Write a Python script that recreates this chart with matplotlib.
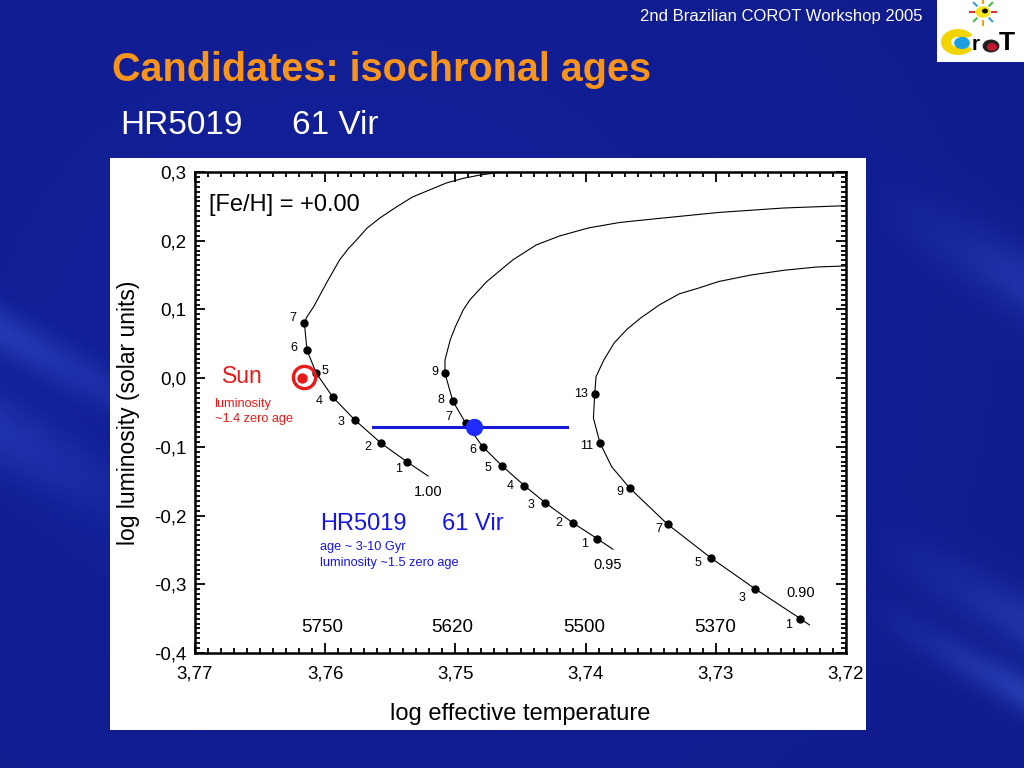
import numpy as np
import matplotlib
matplotlib.use('Agg')
import matplotlib.pyplot as plt
from matplotlib.patches import Rectangle, Circle, Wedge
from matplotlib.ticker import MultipleLocator, AutoMinorLocator, FuncFormatter

plt.rcParams['font.family'] = ['Liberation Sans', 'DejaVu Sans']

# ---------------- data (log Teff, log L/Lsun) ----------------
# isochrone curves, 1.00, 0.95 and 0.90 Msun tracks
track100_x = [3.7521, 3.7537, 3.7557, 3.7577, 3.7594, 3.7607, 3.7614, 3.7616, 3.7614, 3.7609,
              3.7599, 3.7589, 3.7582, 3.7576, 3.7568, 3.7558, 3.7545, 3.7533, 3.7520, 3.7507,
              3.7494, 3.7481, 3.7468, 3.7454, 3.7430]
track100_y = [-0.1424, -0.122, -0.0948, -0.0613, -0.0279, 0.0075, 0.041, 0.0803, 0.0894, 0.1035,
              0.1385, 0.1719, 0.1890, 0.2010, 0.2181, 0.2331, 0.2495, 0.2636, 0.2738, 0.2840,
              0.2908, 0.2956, 0.2990, 0.3010, 0.305]

track095_x = [3.7379, 3.7391, 3.7410, 3.7431, 3.7447, 3.7464, 3.7479, 3.7492, 3.7502, 3.7508,
              3.7508, 3.7504, 3.7500, 3.7494, 3.7489, 3.7484, 3.7476, 3.7468, 3.7456, 3.7438,
              3.7420, 3.7398, 3.7374, 3.7348, 3.7298, 3.7248, 3.7200]
track095_y = [-0.2491, -0.2337, -0.2104, -0.1813, -0.1565, -0.1279, -0.0998, -0.0657, -0.0333, 0.0071,
              0.0264, 0.0555, 0.0749, 0.0992, 0.1137, 0.1239, 0.1404, 0.1530, 0.1719, 0.1938,
              0.2069, 0.2185, 0.2265, 0.2316, 0.2411, 0.2476, 0.2510]

track090_x = [3.7228, 3.7235, 3.7270, 3.7304, 3.7337, 3.7366, 3.7380, 3.7389, 3.7394, 3.7393,
              3.7392, 3.7386, 3.7378, 3.7368, 3.7358, 3.7343, 3.7328, 3.7313, 3.7298, 3.7273,
              3.7248, 3.7223, 3.7200]
track090_y = [-0.3592, -0.3501, -0.3064, -0.2613, -0.2127, -0.1603, -0.1289, -0.0940, -0.058, -0.0235,
              0.0021, 0.0264, 0.0514, 0.0715, 0.0871, 0.1070, 0.1227, 0.1312, 0.1405, 0.1501,
              0.1569, 0.1617, 0.1633]

# age marks (Gyr) on each track
ages100 = [1, 2, 3, 4, 5, 6, 7]
ages100_x = [3.7537, 3.7557, 3.7577, 3.7594, 3.7607, 3.7614, 3.7616]
ages100_y = [-0.122, -0.0948, -0.0613, -0.0279, 0.0075, 0.041, 0.0803]

ages095 = [1, 2, 3, 4, 5, 6, 7, 8, 9]
ages095_x = [3.7391, 3.7410, 3.7431, 3.7447, 3.7464, 3.7479, 3.7492, 3.7502, 3.7508]
ages095_y = [-0.2337, -0.2104, -0.1813, -0.1565, -0.1279, -0.0998, -0.0657, -0.0333, 0.0071]

ages090 = [1, 3, 5, 7, 9, 11, 13]
ages090_x = [3.7235, 3.7270, 3.7304, 3.7337, 3.7366, 3.7389, 3.7393]
ages090_y = [-0.3501, -0.3064, -0.2613, -0.2127, -0.1603, -0.0940, -0.0235]

mass_labels = ['1.00', '0.95', '0.90']
mass_x = [3.7521, 3.7383, 3.7235]
mass_y = [-0.165, -0.272, -0.313]

teff_labels = [5750, 5620, 5500, 5370]
teff_y = -0.3636

sun_x, sun_y = 3.7616, 0.0017
star_x, star_y = 3.7486, -0.071
star_xmin, star_xmax = 3.7414, 3.7563

xticks = [3.77, 3.76, 3.75, 3.74, 3.73, 3.72]
yticks = [0.3, 0.2, 0.1, 0.0, -0.1, -0.2, -0.3, -0.4]

# ---------------- label offsets (pixels) ----------------
off100 = [(-9, 7), (-13, 4), (-14, 2), (-14, 4), (9, -2), (-13, -2), (-12, -5)]
off095 = [(-13, 5), (-14, 0), (-14, 2), (-14, 0), (-14, 2), (-10, 3), (-17, -6), (-12, -1), (-10, -1)]
off090 = [(-12, 6), (-13, 9), (-13, 5), (-9, 5), (-10, 4), (-13, 3), (-14, 0)]
teff_dx = [-7, -7, 3, -1]

W, H = 1024, 768
fig = plt.figure(figsize=(W / 100, H / 100), dpi=100)


def fx(px):
    return px / W


def fy(py):
    return 1 - py / H


# ---------------- background ----------------
bg = fig.add_axes([0, 0, 1, 1])
bg.set_axis_off()
bg.set_xlim(0, 1)
bg.set_ylim(0, 1)
yy, xx = np.mgrid[0:H, 0:W].astype(float)
r = np.full((H, W), 16.0)
g = np.full((H, W), 28.0)
b = np.full((H, W), 138.0)
shade = 1.0 + 0.10 * np.exp(-((xx - 350) ** 2 / 4e5 + (yy - 350) ** 2 / 3e5))
u = yy - 0.55 * xx
streak = (np.exp(-((u - 330) / 25) ** 2) * np.clip((230 - xx) / 230, 0, 1) * 0.45
          + np.exp(-((u - 430) / 40) ** 2) * np.clip((200 - xx) / 200, 0, 1) * 0.35
          + np.exp(-((u - 130) / 20) ** 2) * np.clip((xx - 860) / 160, 0, 1) * 0.5
          + np.exp(-((u - 60) / 30) ** 2) * np.clip((xx - 860) / 160, 0, 1) * 0.35
          + np.exp(-((u + 280) / 35) ** 2) * np.clip((xx - 860) / 160, 0, 1) * 0.35)
r = r * shade + 40 * streak
g = g * shade + 60 * streak
b = b * shade + 70 * streak
img = np.clip(np.dstack([r, g, b]) / 255.0, 0, 1)
bg.imshow(img, extent=[0, 1, 0, 1], aspect='auto', zorder=0)

# white panel
bg.add_patch(Rectangle((fx(110), fy(730)), fx(866) - fx(110), fy(158) - fy(730),
                       facecolor='white', edgecolor='none', zorder=1))

# logo box
bg.add_patch(Rectangle((fx(937), fy(62)), fx(1024) - fx(937), fy(0) - fy(62),
                       facecolor='white', edgecolor='none', zorder=1))
ray_cols = ['#e03030', '#30a0e0', '#f0a020', '#40c040', '#e03030', '#30a0e0', '#f0a020', '#40c040']
for ang, col in zip(range(0, 360, 45), ray_cols):
    a = np.deg2rad(ang)
    bg.plot([fx(983 + 9 * np.cos(a)), fx(983 + 13 * np.cos(a))],
            [fy(12 + 9 * np.sin(a)), fy(12 + 13 * np.sin(a))],
            color=col, lw=1.5, zorder=2)
bg.add_patch(Circle((fx(983), fy(12)), 0.0065, transform=fig.transFigure, color='#f5e61a', zorder=3))
bg.add_patch(Circle((fx(985), fy(11)), 0.0022, transform=fig.transFigure, color='black', zorder=4))
bg.add_patch(Wedge((fx(958), fy(42)), 0.0160, 35, 325, width=0.0085, transform=fig.transFigure,
                   color='#f2d500', zorder=3))
bg.add_patch(Circle((fx(962), fy(43)), 0.0070, transform=fig.transFigure, color='#1ea0e0', zorder=3))
bg.text(fx(972), fy(45), 'r', fontsize=15, fontweight='bold', color='black', va='center', zorder=4)
bg.add_patch(Circle((fx(991), fy(46)), 0.0075, transform=fig.transFigure, color='#202020', zorder=3))
bg.add_patch(Circle((fx(992), fy(47)), 0.0042, transform=fig.transFigure, color='#c01830', zorder=4))
bg.text(fx(999), fy(43), 'T', fontsize=19, fontweight='bold', color='black', va='center', zorder=4)

# ---------------- slide texts ----------------
fig.text(fx(922), fy(17), '2nd Brazilian COROT Workshop 2005', color='white', fontsize=12,
         ha='right', va='center')
fig.text(fx(112), fy(81), 'Candidates: isochronal ages', color='#f7941d', fontsize=28.5,
         fontweight='bold', ha='left', va='baseline')
fig.text(fx(120), fy(134), 'HR5019', color='white', fontsize=24, ha='left', va='baseline')
fig.text(fx(292), fy(134), '61 Vir', color='white', fontsize=24, ha='left', va='baseline')

# ---------------- main axes ----------------
ax = fig.add_axes([fx(195), fy(653), fx(846) - fx(195), fy(172) - fy(653)])
ax.set_facecolor('white')
ax.set_zorder(5)
ax.set_xlim(3.77, 3.72)
ax.set_ylim(-0.4, 0.3)

for tx, ty in [(track100_x, track100_y), (track095_x, track095_y), (track090_x, track090_y)]:
    ax.plot(tx, ty, color='black', lw=0.8, zorder=2, solid_joinstyle='round')

px2pt = 0.72
for ages, axs, ays, offs in [(ages100, ages100_x, ages100_y, off100),
                             (ages095, ages095_x, ages095_y, off095),
                             (ages090, ages090_x, ages090_y, off090)]:
    ax.plot(axs, ays, 'o', color='black', ms=5, zorder=3)
    for a, x, y, (ox, oy) in zip(ages, axs, ays, offs):
        ax.annotate(str(a), (x, y), xytext=(ox * px2pt, -oy * px2pt), textcoords='offset points',
                    ha='center', va='center', fontsize=9, color='black')

for lab, x, y in zip(mass_labels, mass_x, mass_y):
    ax.text(x, y, lab, ha='center', va='center', fontsize=10.5, color='black')

for t, dx in zip(teff_labels, teff_dx):
    ax.annotate(str(t), (np.log10(t), teff_y), xytext=(dx * px2pt, 0), textcoords='offset points',
                ha='center', va='center', fontsize=13.5, color='black')

ax.text(3.7689, 0.252, '[Fe/H] = +0.00', ha='left', va='center', fontsize=17, color='black')

# Sun
red = '#e81b1b'
ax.plot([sun_x], [sun_y], 'o', ms=16, mfc='none', mec=red, mew=2.4, zorder=4)
ax.plot([sun_x + 0.00015], [sun_y - 0.001], 'o', ms=6.5, color=red, zorder=4)
ax.text(3.7664, sun_y, 'Sun', ha='center', va='center', fontsize=16.5, color=red)
ax.text(3.7685, -0.0373, 'luminosity', ha='left', va='center', fontsize=9.2, color=red)
ax.text(3.7685, -0.0591, '~1.4 zero age', ha='left', va='center', fontsize=9.2, color=red)

# HR5019 / 61 Vir
blue = '#1616e0'
ax.plot([star_xmin, star_xmax], [star_y, star_y], color='#1a1ad4', lw=2.2, zorder=4)
ax.plot([star_x], [star_y], 'o', ms=11.5, color='#1f2cff', zorder=5)
ax.text(3.7604, -0.2128, 'HR5019', ha='left', va='center', fontsize=17, color=blue)
ax.text(3.7510, -0.2128, '61 Vir', ha='left', va='center', fontsize=17, color=blue)
ax.text(3.7604, -0.2463, 'age ~ 3-10 Gyr', ha='left', va='center', fontsize=9.2, color=blue)
ax.text(3.7604, -0.2696, 'luminosity ~1.5 zero age', ha='left', va='center', fontsize=9.2, color=blue)

# axes styling
ax.set_xticks(xticks)
ax.set_yticks(yticks)
fmt = FuncFormatter(lambda v, p: ('%.2f' % v).replace('.', ','))
fmty = FuncFormatter(lambda v, p: ('%.1f' % v).replace('.', ',').replace('-0,0', '0,0'))
ax.xaxis.set_major_formatter(fmt)
ax.yaxis.set_major_formatter(fmty)
ax.xaxis.set_minor_locator(MultipleLocator(0.001))
ax.yaxis.set_minor_locator(AutoMinorLocator(14))
ax.tick_params(which='both', direction='in', top=True, right=True, width=1.3, color='black')
ax.tick_params(which='major', length=7, labelsize=13.5)
ax.tick_params(axis='x', which='major', pad=9)
ax.tick_params(axis='y', which='major', pad=6)
ax.tick_params(which='minor', length=3.5)
for sp in ax.spines.values():
    sp.set_linewidth(1.8)

ax.set_xlabel('log effective temperature', fontsize=17, labelpad=15)
ax.set_ylabel('log luminosity (solar units)', fontsize=16.5, labelpad=10)

fig.savefig('out.png', dpi=100)
